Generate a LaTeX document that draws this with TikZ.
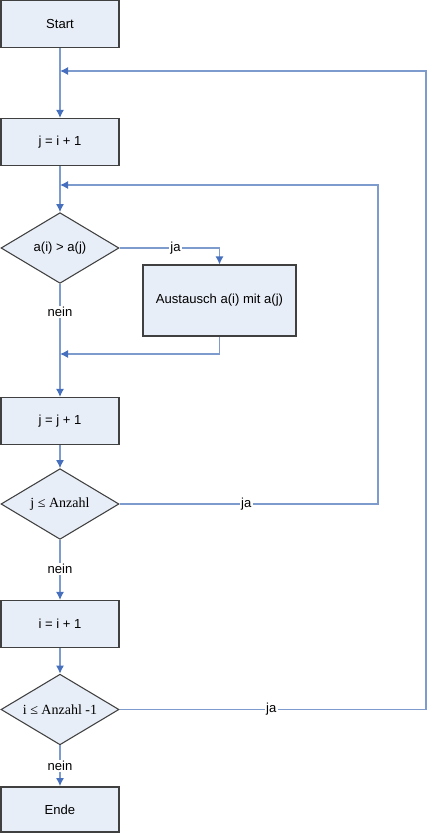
\documentclass[tikz,border=0pt]{standalone}
\usepackage{fontspec}
\setmainfont{Liberation Sans}
\newfontfamily\serifrm{Liberation Serif}
\usepackage{tikz}
\usetikzlibrary{arrows.meta}
\usetikzlibrary{shapes.geometric}
\definecolor{boxfill}{RGB}{232,238,247}
\definecolor{boxline}{RGB}{64,64,64}
\definecolor{flowline}{RGB}{125,155,205}
\definecolor{flowtip}{RGB}{70,112,190}
\tikzset{>=latex}
\tikzstyle{stepbox} = [draw=boxline, line width=1.1pt, fill=boxfill, rectangle, minimum width=88.5pt, minimum height=35pt, inner sep=1pt]
\tikzstyle{test} = [draw=boxline, line width=0.8pt, fill=boxfill, diamond, aspect=1.69, minimum width=88.5pt, minimum height=53pt, inner sep=1pt]
\tikzstyle{flow} = [draw=flowline, line width=0.9pt]
\tikzstyle{flowarrow} = [flow, -{Latex[length=6pt, width=6pt, color=flowtip]}]
\tikzstyle{lab} = [fill=white, inner sep=1pt]

\begin{document}
\begin{tikzpicture}[x=0.75pt, y=-0.75pt, font=\fontsize{9.8}{11.5}\selectfont]
\useasboundingbox (0, 0) rectangle (427, 833);
\node [stepbox] (start) at (60, 24) {Start};
\node [stepbox] (ji) at (60, 142) {j = i + 1};
\node [test] (cmp) at (60, 248) {a(i) > a(j)};
\node [stepbox, minimum width=114.75pt, minimum height=53pt] (swap) at (219.5, 300.5) {Austausch a(i) mit a(j)};
\node [stepbox] (jj) at (60, 421) {j = j + 1};
\node [test] (jtest) at (60, 504) {\serifrm\fontsize{10.5}{12}\selectfont j ≤ Anzahl};
\node [stepbox] (ii) at (60, 624) {i = i + 1};
\node [test] (itest) at (60, 709.5) {\serifrm\fontsize{10.5}{12}\selectfont i ≤ Anzahl -1};
\node [stepbox, minimum height=34pt] (ende) at (60, 809.5) {Ende};
\coordinate (outer) at (60, 71);
\coordinate (inner) at (60, 185);
\coordinate (merge) at (60, 354);
\draw [flowarrow] (start) to (ji);
\draw [flowarrow] (ji) to (cmp);
\draw [flowarrow] (cmp.east) -- (swap.north |- cmp.east) node [lab, pos=0.56] {ja} -- (swap.north);
\draw [flowarrow] (cmp) to node [lab, pos=0.25] {nein} (jj);
\draw [flowarrow] (swap.south) |- (merge);
\draw [flowarrow] (jj) to (jtest);
\draw [flowarrow] (jtest.east) -- node [lab, pos=0.49] {ja} (378, 504) |- (inner);
\draw [flowarrow] (jtest) to node [lab, pos=0.49] {nein} (ii);
\draw [flowarrow] (ii) to (itest);
\draw [flowarrow] (itest.east) -- node [lab, pos=0.495] {ja} (426, 709.5) |- (outer);
\draw [flowarrow] (itest) to node [lab, pos=0.5] {nein} (ende);
\end{tikzpicture}
\end{document}
